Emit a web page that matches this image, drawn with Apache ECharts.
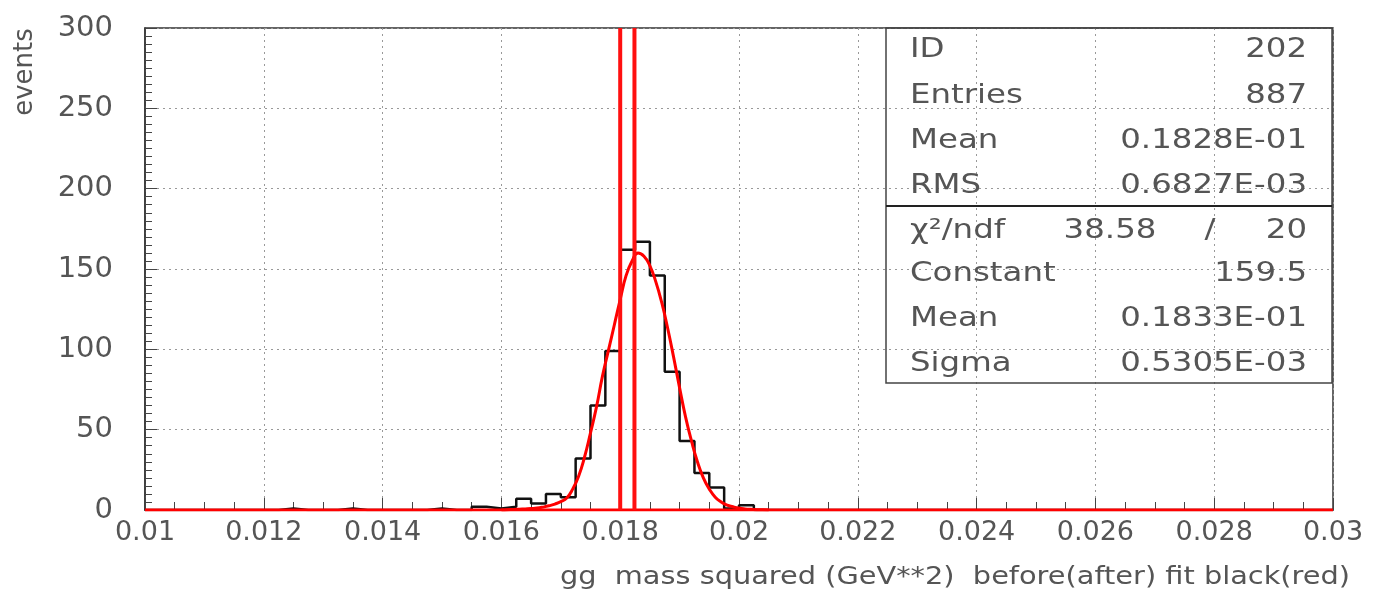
<!DOCTYPE html>
<html>
<head>
<meta charset="utf-8">
<script src="https://cdn.jsdelivr.net/npm/echarts@6/dist/echarts.min.js"></script>
<style>
html,body{margin:0;padding:0;background:#fff;}
#chart{width:1373px;height:599px;}
</style>
</head>
<body>
<div id="chart"></div>
<script>
// ---- data ----
const binLow = 0.01;
const binWidth = 0.00025;
// 80 bins from 0.01 to 0.03
const counts = [
  0,0,0,0,0,0,0,0,0,1,
  0,0,0,1,0,0,0,0,0,1,
  0,0,2,1,2,7,4,10,8,32,
  65,99,162,167,146,86,43,23,14,1,
  3,0,0,0,0,0,0,0,0,0,
  0,0,0,0,0,0,0,0,0,0,
  0,0,0,0,0,0,0,0,0,0,
  0,0,0,0,0,0,0,0,0,0
];
// fitted curve (x, events)
const fitX = [0.0160,0.0161,0.0162,0.0163,0.0164,0.0165,0.0166,0.0167,0.0168,0.0169,
  0.0170,0.0171,0.0172,0.0173,0.0174,0.0175,0.0176,0.0177,0.0178,0.0179,
  0.0180,0.0181,0.0182,0.0183,0.0184,0.0185,0.0186,0.0187,0.0188,0.0189,
  0.0190,0.0191,0.0192,0.0193,0.0194,0.0195,0.0196,0.0197,0.0198,0.0199,
  0.0200,0.0201,0.0202,0.0203,0.0204,0.0205];
const fitY = [0,0.2,0.3,0.5,0.7,0.9,1.2,1.8,2.6,3.7,
  5.2,7.5,13,21,33,48,64,83,99,115,
  131,146,155,160,158,152,142,129,113,95,
  76,58,43,30,20,13,8,5,3,2,
  1.2,0.7,0.4,0.2,0.1,0];
// fitted function outside the peak (flat at zero over the whole axis)
const fitFlatX = [0.01, 0.03];
const fitFlatY = [0, 0];
const cutValues = [0.018, 0.01824];
const xTickLabels = ['0.01','0.012','0.014','0.016','0.018','0.02','0.022','0.024','0.026','0.028','0.03'];
const yTickLabels = ['0','50','100','150','200','250','300'];
const statLabels1 = ['ID','Entries','Mean','RMS'];
const statValues1 = ['202','887','0.1828E-01','0.6827E-03'];
const chiLabel = 'χ²/ndf';
const chiValues = ['38.58','/','20'];
const statLabels2 = ['Constant','Mean','Sigma'];
const statValues2 = ['159.5','0.1833E-01','0.5305E-03'];
const xTitle = 'gg  mass squared (GeV**2)  before(after) fit black(red)';
const yTitle = 'events';

// ---- build ----
const histData = counts.map((c, k) => [binLow + k * binWidth, c]);
histData.push([binLow + counts.length * binWidth, counts[counts.length - 1]]);
const fitData = fitX.map((x, i) => [x, fitY[i]]);
const flatData = fitFlatX.map((x, i) => [x, fitFlatY[i]]);

const FONT = 'DejaVu Sans';
const TXT = '#555';

const chart = echarts.init(document.getElementById('chart'), null, {renderer: 'canvas'});

function txt(s, x, y, align, size, sx, extra) {
  return Object.assign({type:'text', x:x, y:y, z:11, scaleX:sx || 1,
    style:{text:s, font:size + 'px "' + FONT + '"', fill:TXT, textAlign:align, textVerticalAlign:'middle'}}, extra || {});
}

const graphics = [];
// stats box
const bx0 = 886, bx1 = 1332, by0 = 28, by1 = 383, byMid = 206;
graphics.push({type:'rect', shape:{x:bx0, y:by0, width:bx1-bx0, height:by1-by0},
  style:{fill:'rgba(0,0,0,0)', stroke:'#444', lineWidth:1.5}, z:10});
graphics.push({type:'line', shape:{x1:bx0, y1:byMid, x2:bx1, y2:byMid},
  style:{stroke:'#222', lineWidth:2}, z:10});
const SF = 27, SX = 1.2;
const rowY1 = [50, 96, 141, 186];
statLabels1.forEach((l, i) => {
  graphics.push(txt(l, 910, rowY1[i], 'left', SF, SX));
  graphics.push(txt(statValues1[i], 1307, rowY1[i], 'right', SF, SX));
});
graphics.push(txt(chiLabel, 910, 231, 'left', SF, SX));
graphics.push(txt(chiValues[0], 1110, 231, 'center', SF, SX));
graphics.push(txt(chiValues[1], 1210, 231, 'center', SF, SX));
graphics.push(txt(chiValues[2], 1307, 231, 'right', SF, SX));
const rowY2 = [274, 319, 364];
statLabels2.forEach((l, i) => {
  graphics.push(txt(l, 910, rowY2[i], 'left', SF, SX));
  graphics.push(txt(statValues2[i], 1307, rowY2[i], 'right', SF, SX));
});
// axis titles
graphics.push(txt(xTitle, 1350, 578, 'right', 24, 1.2));
graphics.push(txt(yTitle, 25, 72, 'center', 26, 1, {rotation: Math.PI / 2}));

const series = [
  {
    type:'line', data:histData, step:'end', showSymbol:false, silent:true,
    lineStyle:{color:'#111', width:2.5}, z:3
  },
  {
    type:'line', data:flatData, showSymbol:false, silent:true,
    lineStyle:{color:'#ff0000', width:3}, z:4
  },
  {
    type:'line', data:fitData, smooth:0.5, showSymbol:false, silent:true,
    lineStyle:{color:'#ff0000', width:3}, z:4
  }
];
cutValues.forEach(v => {
  series.push({type:'line', data:[[v,0],[v,300]], showSymbol:false, silent:true,
    lineStyle:{color:'#ff1010', width:4}, z:5});
});

chart.setOption({
  animation:false,
  backgroundColor:'#fff',
  grid:{left:145, right:40, top:28, bottom:89, show:true, borderColor:'#333', borderWidth:1.5, backgroundColor:'transparent'},
  xAxis:{
    type:'value', min:0.01, max:0.03, interval:0.002,
    axisLine:{show:true, onZero:false, lineStyle:{color:'#333', width:1.5}},
    axisTick:{show:true, inside:true, length:12, lineStyle:{color:'#444', width:1}},
    minorTick:{show:true, splitNumber:4, length:8, lineStyle:{color:'#444', width:1}},
    splitLine:{show:true, lineStyle:{color:'#999', width:1, type:[2,4]}},
    axisLabel:{margin:9, fontFamily:FONT, fontSize:27, color:TXT,
      formatter:(v, i) => xTickLabels[i] !== undefined ? xTickLabels[i] : ''}
  },
  yAxis:{
    type:'value', min:0, max:300, interval:50,
    axisLine:{show:true, lineStyle:{color:'#333', width:1.5}},
    axisTick:{show:true, inside:true, length:12, lineStyle:{color:'#444', width:1}},
    minorTick:{show:true, splitNumber:10, length:7, lineStyle:{color:'#444', width:1}},
    splitLine:{show:true, lineStyle:{color:'#999', width:1, type:[2,4]}},
    axisLabel:{margin:32, fontFamily:FONT, fontSize:29, color:TXT,
      formatter:(v, i) => yTickLabels[i] !== undefined ? yTickLabels[i] : ''}
  },
  graphic:graphics,
  series:series
});
</script>
</body>
</html>
